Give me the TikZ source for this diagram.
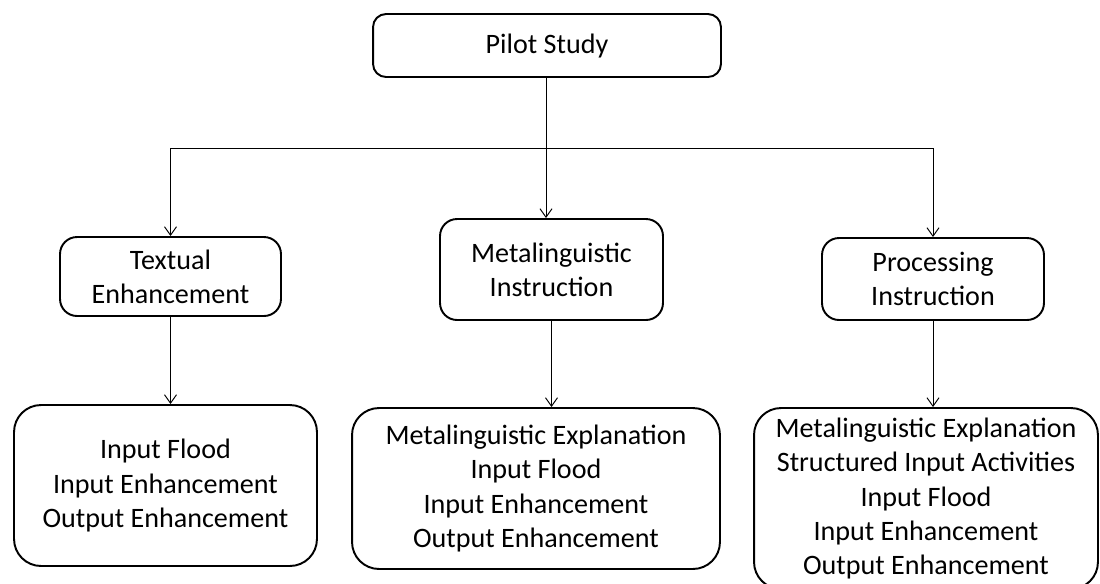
\documentclass[tikz,border=0pt]{standalone}
\usepackage{fontspec}
\setmainfont{Carlito}
\usetikzlibrary{arrows.meta}

\begin{document}
\begin{tikzpicture}[x=0.02cm,y=-0.02cm,
	box/.style={draw,line width=1.1pt,align=center,inner sep=0pt,font=\fontsize{16}{19.4}\selectfont},
	link/.style={line width=0.55pt,-{Straight Barb[length=0.17cm,width=0.24cm]}}]
		\useasboundingbox (0,0) rectangle (1100,583);
		\clip (0,0) rectangle (1100,583);
		\node[box,rounded corners=0.26cm,minimum width=6.96cm,minimum height=1.26cm] (pilot) at (547,45.5) {Pilot Study};
		\node[box,rounded corners=0.34cm,minimum width=4.42cm,minimum height=1.58cm] (textual) at (170.5,276.5) {Textual\\Enhancement};
		\node[box,rounded corners=0.34cm,minimum width=4.46cm,minimum height=2.02cm] (metaling) at (551.5,269.5) {Metalinguistic\\Instruction};
		\node[box,rounded corners=0.34cm,minimum width=4.44cm,minimum height=1.64cm] (processing) at (933,279) {Processing\\Instruction};
		\node[box,rounded corners=0.54cm,minimum width=6.06cm,minimum height=3.22cm] (te-list) at (165.5,485.5) {Input Flood\\Input Enhancement\\Output Enhancement};
		\node[box,rounded corners=0.54cm,minimum width=7.36cm,minimum height=3.22cm] (mi-list) at (536,488.5) {Metalinguistic Explanation\\Input Flood\\Input Enhancement\\Output Enhancement};
		\node[box,rounded corners=0.54cm,minimum width=6.88cm,minimum height=3.62cm] (pi-list) at (926,498.5) {Metalinguistic Explanation\\Structured Input Activities\\Input Flood\\Input Enhancement\\Output Enhancement};
		\coordinate (split) at (546,148);
		\draw[line width=0.55pt] (pilot.south -| split) -- (split);
		\draw[line width=0.55pt] (split -| textual.north) -- (split -| processing.north);
		\draw[link] (split) -- (split |- metaling.north);
		\foreach \n in {textual,processing}
		{\draw[link] (split -| \n.north) -- (\n.north);
		}
		\foreach \a/\b in {textual/te-list,metaling/mi-list,processing/pi-list}
		{\draw[link] (\a.south) -- (\a.south |- \b.north);
		}
		\end{tikzpicture}
\end{document}
